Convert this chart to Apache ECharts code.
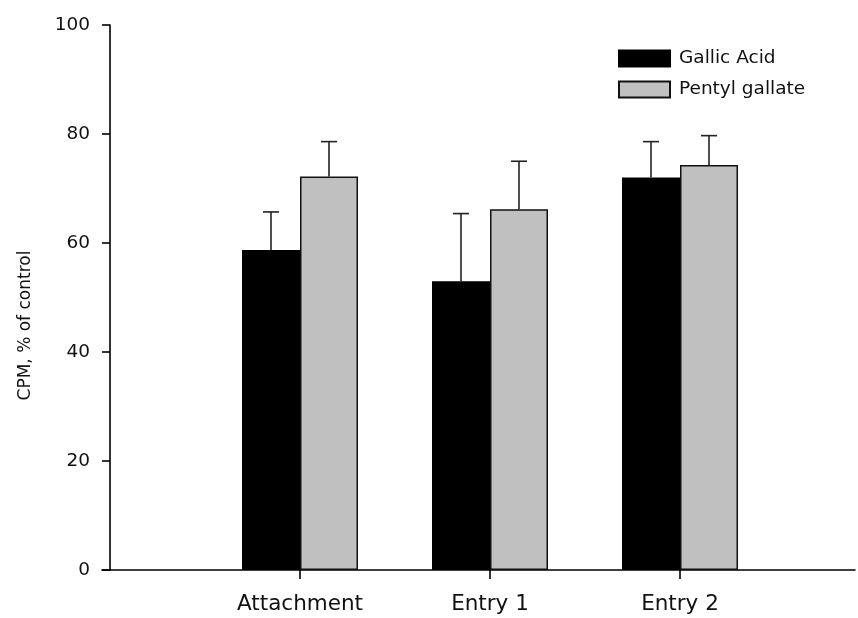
<!DOCTYPE html>
<html>
<head>
<meta charset="utf-8">
<title>CPM, % of control</title>
<script src="https://cdn.jsdelivr.net/npm/echarts@6/dist/echarts.min.js"></script>
<style>
  html, body { margin: 0; padding: 0; background: #fff; }
  #chart { width: 858px; height: 618px; }
</style>
</head>
<body>
<div id="chart"></div>
<script>
// Stage names, placed at positions 1..3 on the x axis
const categories = ['Attachment', 'Entry 1', 'Entry 2'];
const categoryPos = [1, 2, 3];

// Mean CPM (% of control) and its error (upper whisker length)
const gallicMean = [58.7, 53.0, 72.0];
const gallicErr = [7.0, 12.4, 6.6];
const pentylMean = [72.2, 66.2, 74.3];
const pentylErr = [6.4, 8.8, 5.4];

const yTicks = [0, 20, 40, 60, 80, 100];

const seriesNames = ['Gallic Acid', 'Pentyl gallate'];

const FONT = 'DejaVu Sans';
const BAR_W = 58;

const chart = echarts.init(document.getElementById('chart'), null, { renderer: 'canvas' });

function pairs(vals) {
  return vals.map((v, i) => [categoryPos[i], v]);
}
function errData(vals, errs) {
  return vals.map((v, i) => [categoryPos[i], v, v + errs[i]]);
}

// Whisker above each bar, shifted by half a bar width to sit on its own bar
function errorRenderer(shift) {
  return function (params, api) {
    const x = api.value(0);
    const p0 = api.coord([x, api.value(1)]);
    const p1 = api.coord([x, api.value(2)]);
    const cx = p0[0] + shift;
    const capHalf = 8;
    const style = { stroke: '#222', lineWidth: 1.6 };
    return {
      type: 'group',
      children: [
        { type: 'line', shape: { x1: cx, y1: p0[1], x2: cx, y2: p1[1] }, style: style },
        { type: 'line', shape: { x1: cx - capHalf, y1: p1[1], x2: cx + capHalf, y2: p1[1] }, style: style }
      ]
    };
  };
}

const option = {
  backgroundColor: '#fff',
  animation: false,
  grid: { left: 102, right: 3, top: 25, bottom: 48, containLabel: false },
  legend: {
    left: 618,
    top: 49,
    padding: 0,
    orient: 'vertical',
    itemWidth: 51,
    itemHeight: 16,
    itemGap: 12,
    icon: 'rect',
    selectedMode: false,
    data: seriesNames,
    textStyle: { fontFamily: FONT, fontSize: 18.5, color: '#111', lineHeight: 16, padding: [0, 0, 0, 4] }
  },
  xAxis: {
    type: 'value',
    min: -8 / 190,
    max: 745 / 190,
    splitLine: { show: false },
    axisLine: { show: true, lineStyle: { color: '#000', width: 1.6 } },
    axisTick: { show: true, length: 9, customValues: categoryPos, lineStyle: { color: '#000', width: 1.6 } },
    axisLabel: {
      customValues: categoryPos,
      margin: 23,
      fontFamily: FONT,
      fontSize: 21.5,
      color: '#111',
      formatter: function (v) {
        const i = categoryPos.indexOf(Math.round(v));
        return i >= 0 ? categories[i] : '';
      }
    }
  },
  yAxis: {
    type: 'value',
    min: yTicks[0],
    max: yTicks[yTicks.length - 1],
    interval: 20,
    name: 'CPM, % of control',
    nameLocation: 'middle',
    nameRotate: 90,
    nameGap: 68,
    nameTextStyle: { fontFamily: FONT, fontSize: 17, color: '#111', padding: [0, 56, 0, 0] },
    splitLine: { show: false },
    axisLine: { show: true, onZero: true, lineStyle: { color: '#000', width: 1.6 } },
    axisTick: { show: true, length: 8, lineStyle: { color: '#000', width: 1.6 } },
    axisLabel: { margin: 12, fontFamily: FONT, fontSize: 18.5, color: '#111' }
  },
  series: [
    {
      name: seriesNames[0],
      type: 'bar',
      barWidth: BAR_W,
      barGap: '0%',
      data: pairs(gallicMean),
      itemStyle: { color: '#000', borderColor: '#000', borderWidth: 1.5 },
      z: 2
    },
    {
      name: seriesNames[1],
      type: 'bar',
      barWidth: BAR_W,
      barGap: '0%',
      data: pairs(pentylMean),
      itemStyle: { color: '#c0c0c0', borderColor: '#111', borderWidth: 1.5 },
      z: 2
    },
    {
      type: 'custom',
      renderItem: errorRenderer(-BAR_W / 2),
      encode: { x: 0, y: [1, 2] },
      data: errData(gallicMean, gallicErr),
      z: 3,
      silent: true
    },
    {
      type: 'custom',
      renderItem: errorRenderer(BAR_W / 2),
      encode: { x: 0, y: [1, 2] },
      data: errData(pentylMean, pentylErr),
      z: 3,
      silent: true
    }
  ]
};

chart.setOption(option);
</script>
</body>
</html>
